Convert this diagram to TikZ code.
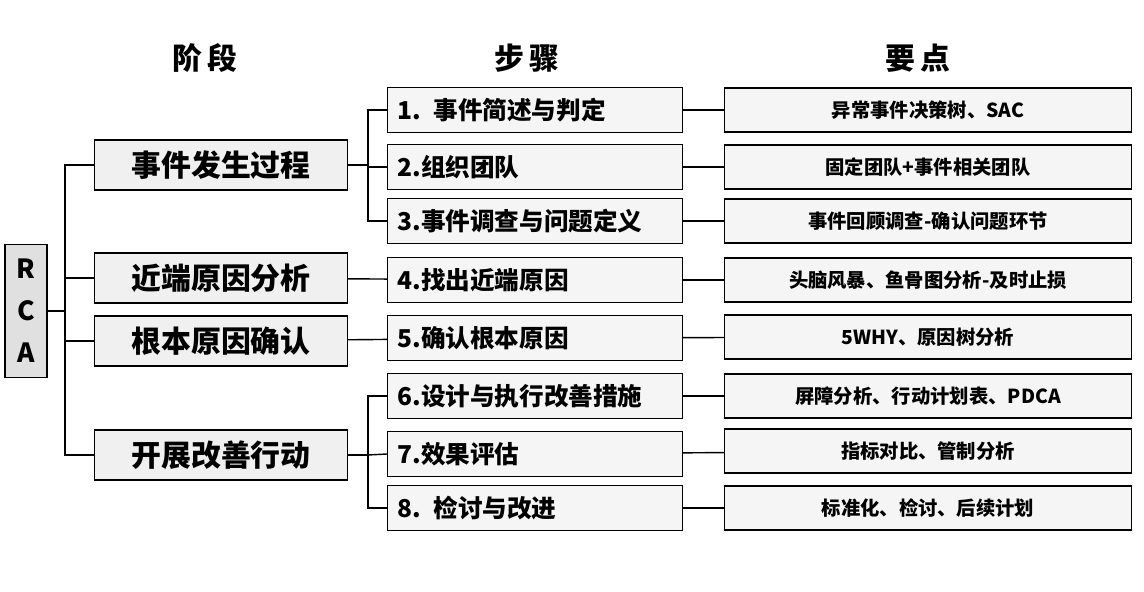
\documentclass[tikz,border=0pt]{standalone}
\usepackage{fontspec}
\setmainfont{Noto Sans CJK SC}
\usetikzlibrary{positioning}
\tikzset{stage/.style={draw, thick, fill=black!6, minimum width=5.06cm, minimum height=1cm, font=\fontsize{17}{20}\selectfont\bfseries}}
\tikzset{stepbox/.style={draw, thick, fill=black!4, minimum width=5.9cm, minimum height=0.9cm, align=left, text width=5.5cm, font=\fontsize{14}{17}\selectfont\bfseries}}
\tikzset{point/.style={draw, thick, fill=black!4, minimum width=8.14cm, minimum height=0.88cm, font=\fontsize{11}{14}\selectfont\bfseries}}
\tikzset{head/.style={font=\fontsize{17}{20}\selectfont\bfseries}}
\tikzset{link/.style={thick}}
\begin{document}
\begin{tikzpicture}[x=0.02cm, y=-0.02cm]
    \useasboundingbox (0,0) rectangle (1144,592);
    % headers
    \node[head] (H1) at (205,58) {阶\,段};
    \node[head] (H2) at (527,58) {步\,骤};
    \node[head] (H3) at (918,58) {要\,点};

    % root
    \node[draw, thick, fill=black!12, minimum width=0.84cm, minimum height=2.66cm, align=center, font=\fontsize{15}{24}\selectfont\bfseries] (R) at (26,311) {R\\C\\A};

    % stages
    \node[stage] (S1) at (221,165) {事件发生过程};
    \node[stage] (S2) at (221,278) {近端原因分析};
    \node[stage] (S3) at (221,341) {根本原因确认};
    \node[stage] (S4) at (221,455) {开展改善行动};

    % steps
    \node[stepbox] (T1) at (535,110) {1. 事件简述与判定};
    \node[stepbox] (T2) at (535,167) {2.组织团队};
    \node[stepbox] (T3) at (535,221) {3.事件调查与问题定义};
    \node[stepbox] (T4) at (535,280) {4.找出近端原因};
    \node[stepbox] (T5) at (535,338) {5.确认根本原因};
    \node[stepbox] (T6) at (535,396) {6.设计与执行改善措施};
    \node[stepbox] (T7) at (535,454) {7.效果评估};
    \node[stepbox] (T8) at (535,508) {8. 检讨与改进};

    % key points
    \node[point] (P1) at (928,110) {异常事件决策树、SAC};
    \node[point] (P2) at (928,167) {固定团队+事件相关团队};
    \node[point] (P3) at (928,221) {事件回顾调查-确认问题环节};
    \node[point] (P4) at (928,280) {头脑风暴、鱼骨图分析-及时止损};
    \node[point] (P5) at (928,337) {5WHY、原因树分析};
    \node[point] (P6) at (928,396) {屏障分析、行动计划表、PDCA};
    \node[point] (P7) at (928,451) {指标对比、管制分析};
    \node[point] (P8) at (928,508) {标准化、检讨、后续计划};

    % root to stages
    \coordinate (J0) at (65,311);
    \draw[link] (R) -- (J0);
    \draw[link] (S1.west) -| (J0) |- (S4.west);
    \draw[link] (J0) |- (S2.west);
    \draw[link] (J0) |- (S3.west);

    % stages to steps
    \coordinate (J1) at (368,165);
    \coordinate (J4) at (368,455);
    \draw[link] (S1) -- (J1);
    \draw[link] (T1.west) -| (J1) |- (T3.west);
    \draw[link] (J1) |- (T2.west);
    \draw[link] (S2) -- (T4);
    \draw[link] (S3) -- (T5);
    \draw[link] (S4) -- (J4);
    \draw[link] (T6.west) -| (J4) |- (T8.west);
    \draw[link] (J4) -- (T7.west);

    % steps to points
    \foreach \i in {1,...,8} {
        \draw[link] (T\i) -- (P\i);
    }
\end{tikzpicture}
\end{document}
